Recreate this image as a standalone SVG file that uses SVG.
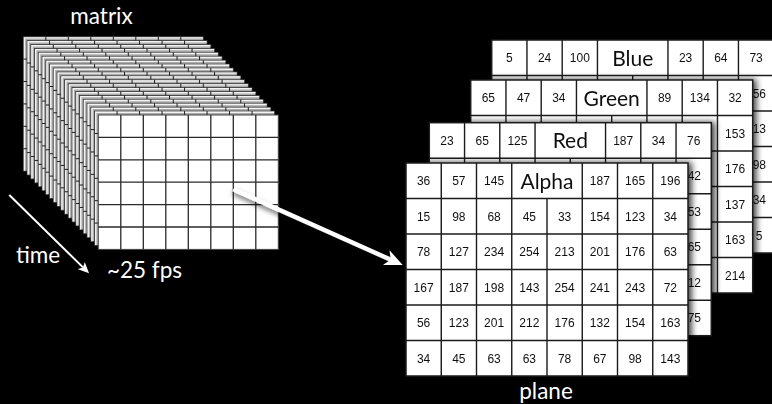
<svg xmlns="http://www.w3.org/2000/svg" xmlns:xlink="http://www.w3.org/1999/xlink" width="772" height="404" viewBox="0 0 772 404">
<defs>
<style>
.n{font-family:"Liberation Sans",Arial,sans-serif;font-size:12px;text-anchor:middle;fill:#111}
.ne{font-family:"Liberation Sans",Arial,sans-serif;font-size:12px;text-anchor:end;fill:#111}
.lbl{font-family:Lato,"Open Sans",sans-serif;font-size:21px;text-anchor:middle;fill:#111}
.w{font-family:Lato,"Open Sans",sans-serif;font-size:22.5px;text-anchor:middle;fill:#fff}
.pg{fill:none;stroke:#1a1a1a;stroke-width:1.4}
.conn{fill:none;stroke:#fff;stroke-linecap:butt}
</style>
<filter id="sh" x="-10%" y="-10%" width="125%" height="125%">
<feDropShadow dx="3" dy="0" stdDeviation="3" flood-color="#000" flood-opacity="0.75"/>
</filter>
<filter id="ash" x="-10%" y="-20%" width="130%" height="160%">
<feDropShadow dx="0" dy="3" stdDeviation="2.5" flood-color="#000" flood-opacity="0.6"/>
</filter>
<marker id="bigHead" viewBox="0 0 18 16" markerUnits="userSpaceOnUse" markerWidth="18" markerHeight="16" refX="5" refY="8" orient="auto">
<path d="M0,0 L18,8 L0,16 L5,8 z" fill="#fff"/>
</marker>
<marker id="smallHead" viewBox="0 0 11 10" markerUnits="userSpaceOnUse" markerWidth="11" markerHeight="10" refX="2.5" refY="5" orient="auto">
<path d="M0,0 L11,5 L0,10 L2.5,5 z" fill="#fff"/>
</marker>
<g id="frame">
<rect x="0" y="0" width="180" height="134.4" fill="#ababab" stroke="#333" stroke-width="0.8"/>
<path d="M1.2,134 V1.2 H179.6" fill="none" stroke="#f2f2f2" stroke-width="1.4"/>
<path d="M22.5,0V134.4M45,0V134.4M67.5,0V134.4M90,0V134.4M112.5,0V134.4M135,0V134.4M157.5,0V134.4M0,22.4H180M0,44.8H180M0,67.2H180M0,89.6H180M0,112H180" fill="none" stroke="#1e1e1e" stroke-width="1"/>
</g>
<g id="pgrid">
<rect x="0" y="0" width="282" height="213" fill="#fff"/>
<path class="pg" d="M35.25,0V213M70.5,0V213M105.75,0V213M141,35.5V213M176.25,0V213M211.5,0V213M246.75,0V213M0,35.5H282M0,71H282M0,106.5H282M0,142H282M0,177.5H282"/>
<rect x="0" y="0" width="282" height="213" fill="none" stroke="#1a1a1a" stroke-width="1.5"/>
</g>
</defs>
<rect x="0" y="0" width="772" height="404" fill="#000"/>

<g id="matrix">
<use xlink:href="#frame" x="23.3" y="36.7"/>
<use xlink:href="#frame" x="27.05" y="40.615"/>
<use xlink:href="#frame" x="30.8" y="44.53"/>
<use xlink:href="#frame" x="34.55" y="48.445"/>
<use xlink:href="#frame" x="38.3" y="52.36"/>
<use xlink:href="#frame" x="42.05" y="56.275"/>
<use xlink:href="#frame" x="45.8" y="60.19"/>
<use xlink:href="#frame" x="49.55" y="64.105"/>
<use xlink:href="#frame" x="53.3" y="68.02"/>
<use xlink:href="#frame" x="57.05" y="71.935"/>
<use xlink:href="#frame" x="60.8" y="75.85"/>
<use xlink:href="#frame" x="64.55" y="79.765"/>
<use xlink:href="#frame" x="68.3" y="83.68"/>
<use xlink:href="#frame" x="72.05" y="87.595"/>
<use xlink:href="#frame" x="75.8" y="91.51"/>
<use xlink:href="#frame" x="79.55" y="95.425"/>
<use xlink:href="#frame" x="83.3" y="99.34"/>
<use xlink:href="#frame" x="87.05" y="103.255"/>
<use xlink:href="#frame" x="90.8" y="107.17"/>
<use xlink:href="#frame" x="94.55" y="111.085"/>
<g transform="translate(98.3,115)">
<rect x="0" y="0" width="180" height="134.4" fill="#fff" stroke="#444" stroke-width="1"/>
<path d="M22.5,0V134.4M45,0V134.4M67.5,0V134.4M90,0V134.4M112.5,0V134.4M135,0V134.4M157.5,0V134.4M0,22.4H180M0,44.8H180M0,67.2H180M0,89.6H180M0,112H180" fill="none" stroke="#2a2a2a" stroke-width="1.3"/>
</g>
<text class="w" x="101.5" y="24">matrix</text>
</g>

<g id="plane-blue" transform="translate(491.7,40)" filter="url(#sh)">
<use xlink:href="#pgrid"/>
<text class="n" x="17.63" y="22.05">5</text>
<text class="n" x="52.88" y="22.05">24</text>
<text class="n" x="88.13" y="22.05">100</text>
<text class="lbl" x="141" y="25.75">Blue</text>
<text class="n" x="193.88" y="22.05">23</text>
<text class="n" x="229.13" y="22.05">64</text>
<text class="n" x="264.38" y="22.05">73</text>
<text class="ne" x="274.3" y="57.55">56</text>
<text class="ne" x="274.3" y="93.05">13</text>
<text class="ne" x="274.3" y="128.55">98</text>
<text class="ne" x="274.3" y="164.05">34</text>
<text class="ne" x="270.8" y="199.55">5</text>
</g>

<g id="plane-green" transform="translate(470.7,80)" filter="url(#sh)">
<use xlink:href="#pgrid"/>
<text class="n" x="17.63" y="22.05">65</text>
<text class="n" x="52.88" y="22.05">47</text>
<text class="n" x="88.13" y="22.05">34</text>
<text class="lbl" x="141" y="25.75">Green</text>
<text class="n" x="193.88" y="22.05">89</text>
<text class="n" x="229.13" y="22.05">134</text>
<text class="n" x="264.38" y="22.05">32</text>
<text class="n" x="264.38" y="57.55">153</text>
<text class="n" x="264.38" y="93.05">176</text>
<text class="n" x="264.38" y="128.55">137</text>
<text class="n" x="264.38" y="164.05">163</text>
<text class="n" x="264.38" y="199.55">214</text>
</g>

<g id="plane-red" transform="translate(429.3,122.7)" filter="url(#sh)">
<use xlink:href="#pgrid"/>
<text class="n" x="17.63" y="22.05">23</text>
<text class="n" x="52.88" y="22.05">65</text>
<text class="n" x="88.13" y="22.05">125</text>
<text class="lbl" x="141" y="25.75">Red</text>
<text class="n" x="193.88" y="22.05">187</text>
<text class="n" x="229.13" y="22.05">34</text>
<text class="n" x="264.38" y="22.05">76</text>
<text class="ne" x="271.7" y="57.55">42</text>
<text class="ne" x="271.7" y="93.05">53</text>
<text class="ne" x="271.7" y="128.55">65</text>
<text class="ne" x="271.7" y="164.05">12</text>
<text class="ne" x="271.7" y="199.55">75</text>
</g>

<g id="plane-alpha" transform="translate(406,163)" filter="url(#sh)">
<use xlink:href="#pgrid"/>
<text class="n" x="17.63" y="22.05">36</text>
<text class="n" x="52.88" y="22.05">57</text>
<text class="n" x="88.13" y="22.05">145</text>
<text class="lbl" x="141" y="25.75">Alpha</text>
<text class="n" x="193.88" y="22.05">187</text>
<text class="n" x="229.13" y="22.05">165</text>
<text class="n" x="264.38" y="22.05">196</text>
<text class="n" x="17.63" y="57.55">15</text>
<text class="n" x="52.88" y="57.55">98</text>
<text class="n" x="88.13" y="57.55">68</text>
<text class="n" x="123.38" y="57.55">45</text>
<text class="n" x="158.63" y="57.55">33</text>
<text class="n" x="193.88" y="57.55">154</text>
<text class="n" x="229.13" y="57.55">123</text>
<text class="n" x="264.38" y="57.55">34</text>
<text class="n" x="17.63" y="93.05">78</text>
<text class="n" x="52.88" y="93.05">127</text>
<text class="n" x="88.13" y="93.05">234</text>
<text class="n" x="123.38" y="93.05">254</text>
<text class="n" x="158.63" y="93.05">213</text>
<text class="n" x="193.88" y="93.05">201</text>
<text class="n" x="229.13" y="93.05">176</text>
<text class="n" x="264.38" y="93.05">63</text>
<text class="n" x="17.63" y="128.55">167</text>
<text class="n" x="52.88" y="128.55">187</text>
<text class="n" x="88.13" y="128.55">198</text>
<text class="n" x="123.38" y="128.55">143</text>
<text class="n" x="158.63" y="128.55">254</text>
<text class="n" x="193.88" y="128.55">241</text>
<text class="n" x="229.13" y="128.55">243</text>
<text class="n" x="264.38" y="128.55">72</text>
<text class="n" x="17.63" y="164.05">56</text>
<text class="n" x="52.88" y="164.05">123</text>
<text class="n" x="88.13" y="164.05">201</text>
<text class="n" x="123.38" y="164.05">212</text>
<text class="n" x="158.63" y="164.05">176</text>
<text class="n" x="193.88" y="164.05">132</text>
<text class="n" x="229.13" y="164.05">154</text>
<text class="n" x="264.38" y="164.05">163</text>
<text class="n" x="17.63" y="199.55">34</text>
<text class="n" x="52.88" y="199.55">45</text>
<text class="n" x="88.13" y="199.55">63</text>
<text class="n" x="123.38" y="199.55">63</text>
<text class="n" x="158.63" y="199.55">78</text>
<text class="n" x="193.88" y="199.55">67</text>
<text class="n" x="229.13" y="199.55">98</text>
<text class="n" x="264.38" y="199.55">143</text>
</g>

<g id="label-time"><text class="w" x="38" y="263">time</text></g>
<g id="label-fps"><text class="w" x="144.5" y="278">~25 fps</text></g>
<g id="label-plane"><text class="w" x="546" y="399">plane</text></g>

<g id="connectors">
<path class="conn" d="M9.3,195 L83,267.4" stroke-width="2" marker-end="url(#smallHead)"/>
<path class="conn" d="M233.3,189.3 L390.8,259.7" stroke-width="4.5" marker-end="url(#bigHead)" filter="url(#ash)"/>
</g>
</svg>
